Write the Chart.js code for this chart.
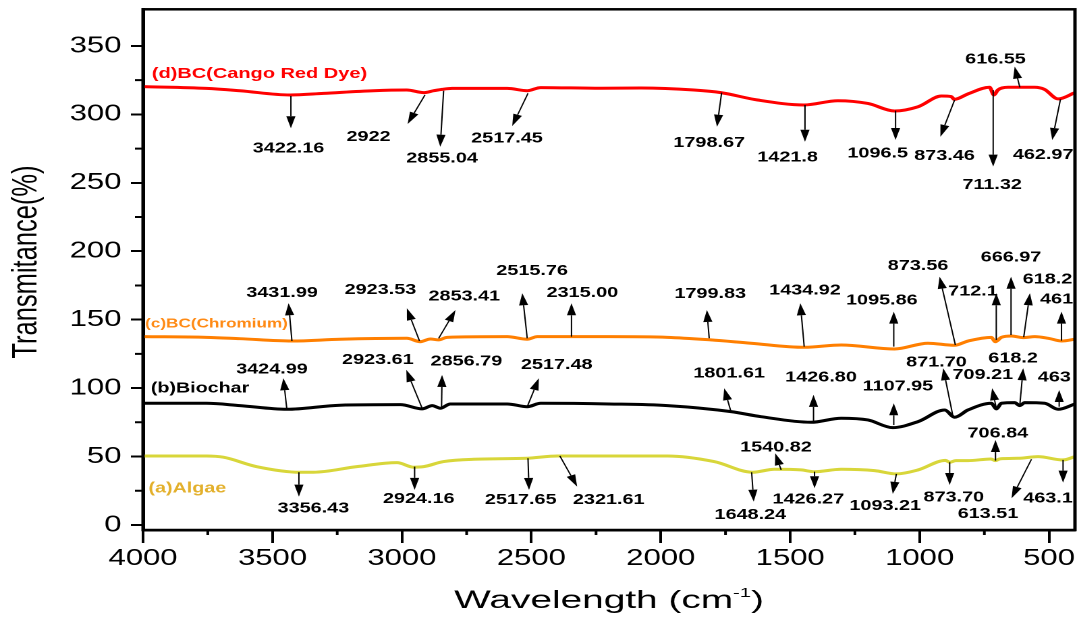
<!DOCTYPE html>
<html>
<head>
<meta charset="utf-8">
<script src="https://cdn.jsdelivr.net/npm/chart.js@4/dist/chart.umd.min.js"></script>
<style>
  html, body { margin: 0; padding: 0; background: #fff; overflow: hidden; }
  /* The source figure is stretched sideways (~1.35x); draw at natural width and stretch the same way. */
  #wrap { position: absolute; left: 0; top: 0; width: 798px; height: 618px; transform: scaleX(1.3496); transform-origin: 0 0; }
</style>
</head>
<body>
<div id="wrap"><canvas id="ftir"></canvas></div>
<script>
// Wavenumbers (cm-1) and transmittance (%), one pair per spectrum.
const algaeWn = [4000, 3755, 3690, 3561, 3394, 3342, 3174, 3019, 2955, 2916, 2839, 2723, 2516, 2400, 2200, 1974, 1794, 1645, 1561, 1458, 1406, 1303, 1174, 1090, 1006, 900, 884, 860, 813, 725, 707, 690, 620, 543, 446, 400];
const algaeT = [50.4, 50.4, 49.5, 42.6, 38.5, 38.5, 42.6, 45.5, 42.2, 42.6, 46.3, 48, 48.7, 50.4, 50.4, 50.4, 46.3, 38.5, 40.7, 40.2, 38.9, 40.7, 39.7, 37.3, 40.2, 47.2, 45.8, 47, 47, 48.2, 47, 48.3, 48.7, 49.9, 47.5, 49.9];

const biocharWn = [4000, 3755, 3626, 3445, 3239, 3006, 2922, 2883, 2852, 2813, 2593, 2516, 2464, 2200, 1974, 1729, 1613, 1420, 1303, 1200, 1104, 1006, 903, 865, 813, 723, 704, 684, 633, 613, 594, 517, 465, 400];
const biocharT = [88.9, 88.9, 87.2, 84.5, 87.5, 87.9, 84.8, 87.2, 85.3, 88.4, 88.4, 86.4, 88.9, 88.4, 87.2, 82.8, 79.1, 75, 78, 76.7, 71.1, 75.5, 84, 78.7, 84, 88.9, 84.8, 88.9, 89.4, 87.2, 89.4, 88.9, 84.5, 88.4];

const chromiumWn = [4000, 3755, 3626, 3425, 3239, 2981, 2929, 2890, 2858, 2826, 2593, 2516, 2477, 2200, 1974, 1807, 1652, 1445, 1303, 1097, 968, 865, 813, 723, 708, 684, 645, 600, 555, 503, 451, 400];
const chromiumT = [137.6, 137.1, 136.1, 134.4, 135.7, 136.4, 133.9, 135.9, 135.2, 137.1, 137.6, 135.7, 137.6, 137.6, 137.1, 135.2, 132.8, 129.8, 131.5, 128.6, 132.8, 131.3, 134.4, 137.1, 133.9, 137.1, 138.1, 136.9, 137.6, 136.4, 134.4, 135.7];

const dyeWn = [4000, 3755, 3626, 3432, 3303, 3110, 2981, 2916, 2877, 2845, 2806, 2593, 2516, 2464, 2232, 2077, 1872, 1768, 1626, 1446, 1316, 1200, 1097, 1006, 916, 878, 866, 813, 730, 713, 698, 659, 556, 518, 465, 400];
const dyeT = [320.3, 319, 317.3, 314.2, 315.4, 317.3, 317.8, 315.9, 317.3, 318.3, 319, 319, 317.3, 319.6, 319.1, 319.3, 317.8, 315.9, 310.5, 306.9, 310, 308, 302.5, 305.6, 313.4, 313, 311, 315, 319.8, 314.2, 317.8, 319.8, 319.8, 318.3, 311.3, 315.9];

// Peak call-outs: [label, arrow tail wn, tail T, arrow head wn, head T, text wn, text T]
const algaePeaks = [
    ['3356.43', 3398, 38.5, 3398, 20.7, 3342, 12.2],
    ['2924.16', 2951, 42.6, 2951, 25.6, 2935, 19],
    ['2517.65', 2513, 48.7, 2509, 25.6, 2541, 18.3],
    ['2321.61', 2390, 50.4, 2323, 28, 2201, 18.3],
    ['1648.24', 1649, 38.5, 1641, 17, 1654, 7.3],
    ['1540.82', 1535, 40.2, 1558, 52.4, 1555, 56.8],
    ['1426.27', 1406, 38.9, 1406, 26.8, 1430, 18.8],
    ['1093.21', 1090, 37.3, 1104, 22.7, 1133, 13.9],
    ['873.70', 884, 45.8, 884, 29.2, 868, 20],
    ['706.84', 707, 47, 707, 62.1, 698, 67],
    ['613.51', 568, 48, 645, 19.5, 736, 8],
    ['463.1', 446, 47.5, 446, 30.9, 504, 19.5],
];
const biocharPeaks = [
    ['3424.99', 3445, 85.3, 3458, 107.2, 3502, 113.8],
    ['2923.61', 2922, 85.3, 2983, 113.3, 3093, 120.6],
    ['2856.79', 2847, 85.3, 2845, 109.6, 2751, 119.3],
    ['2517.48', 2516, 86.4, 2471, 107.2, 2402, 116.9],
    ['1801.61', 1729, 82.8, 1755, 99.9, 1736, 110.8],
    ['1426.80', 1410, 75, 1410, 95, 1381, 107.9],
    ['1107.95', 1100, 73, 1100, 88.9, 1084, 101.1],
    ['871.70', 871, 79.1, 909, 114.5, 935, 118.6],
    ['709.21', 704, 85.3, 720, 99.9, 756, 109.6],
    ['618.2', 613, 87.7, 600, 114.5, 639, 121.8],
    ['463', 461, 86.4, 461, 98.6, 480, 107.9],
];
const chromiumPeaks = [
    ['3431.99', 3425, 134.4, 3438, 162, 3463, 169.7],
    ['2923.53', 2932, 134.4, 2981, 158.3, 3083, 171.7],
    ['2853.41', 2858, 136.4, 2793, 157.1, 2759, 166.8],
    ['2515.76', 2516, 136.4, 2535, 169.3, 2497, 185.6],
    ['2315.00', 2345, 137.6, 2345, 162, 2303, 169.7],
    ['1799.83', 1813, 136.4, 1822, 157.1, 1809, 168.8],
    ['1434.92', 1446, 130.3, 1461, 162, 1443, 171.2],
    ['1095.86', 1100, 130.3, 1100, 155.9, 1146, 163.9],
    ['873.56', 862, 131.5, 923, 181.4, 1006, 189.2],
    ['712.1', 704, 135.2, 704, 169.3, 794, 170.5],
    ['666.97', 647, 138.8, 647, 181.4, 647, 195.6],
    ['618.2', 598, 137.2, 574, 169.3, 506, 179.5],
    ['461', 452, 134.7, 452, 155.9, 471, 164.9],
];
const dyePeaks = [
    ['3422.16', 3429, 313.5, 3429, 289.9, 3438, 275.2],
    ['2922', 2911, 314.2, 2978, 293, 3129, 283.7],
    ['2855.04', 2839, 317.3, 2852, 276.4, 2845, 267.9],
    ['2517.45', 2513, 315.4, 2574, 291.5, 2594, 282.5],
    ['1798.67', 1765, 315.9, 1783, 291, 1813, 279.3],
    ['1421.8', 1443, 306.9, 1443, 280, 1510, 268.7],
    ['1096.5', 1093, 302.7, 1093, 281.3, 1162, 271.6],
    ['873.46', 865, 310.5, 920, 283.7, 904, 269.6],
    ['711.32', 716, 317.8, 716, 261.8, 720, 248.4],
    ['616.55', 613, 319.8, 633, 334.9, 707, 340.3],
    ['462.97', 456, 311, 488, 281.3, 523, 270.3],
];

// Series captions and where they sit (axis units: wn of left edge, T of centre line).
const seriesNames = ['(a)Algae', '(b)Biochar', '(c)BC(Chromium)', '(d)BC(Cango Red Dye)'];
const nameAnchors = [[3979, 26.8], [3970, 99.9], [3992, 146.9], [3966, 329.5]];

const xTickValues = [4000, 3500, 3000, 2500, 2000, 1500, 1000, 500];
const xMinorTicks = [3750, 3250, 2750, 2250, 1750, 1250, 750];
const yTickValues = [0, 50, 100, 150, 200, 250, 300, 350];
const yMinorTicks = [25, 75, 125, 175, 225, 275, 325];

const FONT = '"Liberation Sans", Arial, sans-serif';
const lineColors = ['#d8d63a', '#000000', '#ff7f00', '#ff0000'];
const nameColors = ['#e3b02c', '#000000', '#ff8a14', '#ff0000'];
const nameSizes = [14.6, 14.6, 12.7, 14.8];

function toPoints(xs, ys) {
    return xs.map((x, i) => ({ x, y: ys[i] }));
}

function drawArrow(ctx, x1, y1, x2, y2) {
    const ang = Math.atan2(y2 - y1, x2 - x1);
    const head = 12, half = 3.4;
    const bx = x2 - head * Math.cos(ang), by = y2 - head * Math.sin(ang);
    ctx.beginPath();
    ctx.moveTo(x1, y1);
    ctx.lineTo(bx, by);
    ctx.stroke();
    ctx.beginPath();
    ctx.moveTo(x2, y2);
    ctx.lineTo(bx - half * Math.sin(ang), by + half * Math.cos(ang));
    ctx.lineTo(bx + half * Math.sin(ang), by - half * Math.cos(ang));
    ctx.closePath();
    ctx.fill();
}

const ftirDecor = {
    id: 'ftirDecor',
    afterDatasetsDraw(chart) {
        const { ctx, scales: { x, y } } = chart;
        ctx.save();
        ctx.strokeStyle = '#000';
        ctx.fillStyle = '#000';
        ctx.lineWidth = 1;
        ctx.font = `bold 14.7px ${FONT}`;
        ctx.textAlign = 'center';
        ctx.textBaseline = 'middle';
        [algaePeaks, biocharPeaks, chromiumPeaks, dyePeaks].forEach(list => {
            list.forEach(([label, fx, fy, hx, hy, tx, ty]) => {
                drawArrow(ctx, x.getPixelForValue(fx), y.getPixelForValue(fy),
                    x.getPixelForValue(hx), y.getPixelForValue(hy));
                ctx.fillText(label, x.getPixelForValue(tx), y.getPixelForValue(ty));
            });
        });
        ctx.textAlign = 'left';
        seriesNames.forEach((name, i) => {
            ctx.font = `bold ${nameSizes[i]}px ${FONT}`;
            ctx.fillStyle = nameColors[i];
            ctx.fillText(name, x.getPixelForValue(nameAnchors[i][0]), y.getPixelForValue(nameAnchors[i][1]));
        });
        ctx.restore();
    },
    afterDraw(chart) {
        const { ctx, chartArea: a, scales: { x, y } } = chart;
        ctx.save();
        ctx.strokeStyle = '#000';
        ctx.lineWidth = 2.5;
        ctx.strokeRect(a.left, a.top, a.right - a.left, a.bottom - a.top);

        // minor ticks, shorter than the major ones
        ctx.lineWidth = 2;
        ctx.beginPath();
        xMinorTicks.forEach(v => {
            const px = x.getPixelForValue(v);
            ctx.moveTo(px, a.bottom);
            ctx.lineTo(px, a.bottom + 5);
        });
        yMinorTicks.forEach(v => {
            const py = y.getPixelForValue(v);
            ctx.moveTo(a.left - 6, py);
            ctx.lineTo(a.left, py);
        });
        ctx.stroke();

        // axis titles
        ctx.fillStyle = '#000';
        ctx.save();
        ctx.translate(20, 262);
        ctx.rotate(-Math.PI / 2);
        ctx.font = `25.5px ${FONT}`;
        ctx.textAlign = 'center';
        ctx.textBaseline = 'middle';
        ctx.fillText('Transmitance(%)', 0, 0);
        ctx.restore();

        ctx.save();
        ctx.translate(451.3, 608);
        ctx.scale(1.15, 1);
        ctx.textAlign = 'left';
        ctx.textBaseline = 'alphabetic';
        ctx.font = `25px ${FONT}`;
        const w1 = ctx.measureText('Wavelength (cm').width;
        const w3 = ctx.measureText(')').width;
        ctx.font = `13px ${FONT}`;
        const w2 = ctx.measureText('-1').width;
        let cx = -(w1 + w2 + w3) / 2;
        ctx.font = `25px ${FONT}`;
        ctx.fillText('Wavelength (cm', cx, 0);
        cx += w1;
        ctx.font = `13px ${FONT}`;
        ctx.fillText('-1', cx, -11);
        cx += w2;
        ctx.font = `25px ${FONT}`;
        ctx.fillText(')', cx, 0);
        ctx.restore();
        ctx.restore();
    },
};

const spectra = [
    [algaeWn, algaeT],
    [biocharWn, biocharT],
    [chromiumWn, chromiumT],
    [dyeWn, dyeT],
];

new Chart(document.getElementById('ftir'), {
    type: 'line',
    data: {
        datasets: spectra.map(([xs, ys], i) => ({
            label: seriesNames[i],
            data: toPoints(xs, ys),
            borderColor: lineColors[i],
            backgroundColor: 'transparent',
            borderWidth: 3,
            pointRadius: 0,
            cubicInterpolationMode: 'monotone',
        })),
    },
    options: {
        responsive: true,
        maintainAspectRatio: false,
        animation: false,
        devicePixelRatio: 2,
        layout: { padding: { top: 9.3, right: 1.5, left: 0, bottom: 0 } },
        plugins: { legend: { display: false }, tooltip: { enabled: false } },
        scales: {
            x: {
                type: 'linear',
                reverse: true,
                min: 400,
                max: 4000,
                afterBuildTicks: s => { s.ticks = xTickValues.map(v => ({ value: v })); },
                // fixed band height, and no edge padding for the end labels
                afterFit: s => { s.height = 88; s.paddingLeft = 0; s.paddingRight = 0; },
                grid: { drawOnChartArea: false, drawTicks: true, tickLength: 13, tickWidth: 2, tickColor: '#000' },
                border: { display: true, color: '#000', width: 2.5 },
                ticks: { color: '#000', autoSkip: false, maxRotation: 0, padding: 2, font: { family: FONT, size: 23 }, callback: v => String(v) },
            },
            y: {
                type: 'linear',
                min: -3.7,
                max: 376.8,
                afterBuildTicks: s => { s.ticks = yTickValues.map(v => ({ value: v })); },
                afterFit: s => { s.width = 106; s.paddingTop = 0; s.paddingBottom = 0; },
                grid: { drawOnChartArea: false, drawTicks: true, tickLength: 9, tickWidth: 2, tickColor: '#000' },
                border: { display: true, color: '#000', width: 2.5 },
                ticks: { color: '#000', padding: 7, font: { family: FONT, size: 23 }, callback: v => String(v) },
            },
        },
    },
    plugins: [ftirDecor],
});
</script>
</body>
</html>
